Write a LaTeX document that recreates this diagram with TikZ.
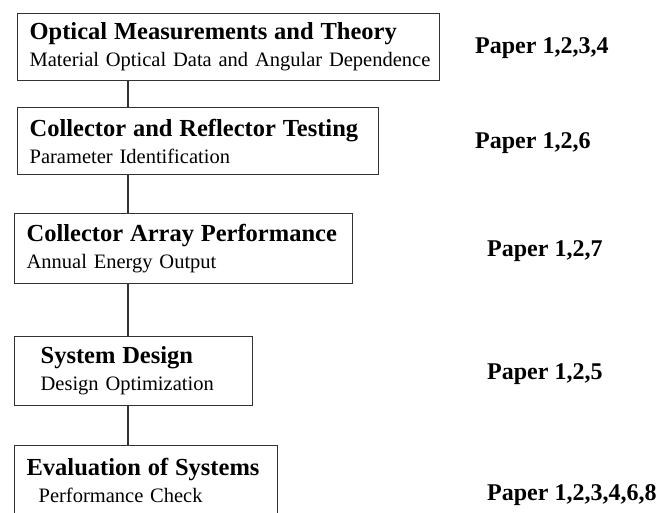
\documentclass[tikz,border=0pt]{standalone}
\usepackage{fontspec}
\setmainfont{Liberation Serif}
\usetikzlibrary{positioning}

\begin{document}
\begin{tikzpicture}[
    x=1pt, y=-1pt,
    stage/.style={rectangle, draw=black!80, line width=1.3pt, anchor=north west, align=left, inner xsep=12pt, inner ysep=0pt, font=\fontsize{20.5}{27}\selectfont},
    link/.style={draw=black!80, line width=1.3pt},
    ref/.style={anchor=base west, inner sep=0pt, font=\fontsize{24}{26}\selectfont\bfseries}
]
\clip (0,0) rectangle (659,512);
\coordinate (spine) at (128,0);

\node[stage, text width=398pt, minimum height=67pt] (s1) at (17,13) {{\bfseries\fontsize{24.5}{27}\selectfont Optical Measurements and Theory}\\\mbox{Material Optical Data and Angular Dependence}};
\node[stage, text width=337pt, minimum height=67pt] (s2) at (17,107) {{\bfseries\fontsize{24.5}{27}\selectfont Collector and Reflector Testing}\\Parameter Identification};
\node[stage, text width=314pt, minimum height=70pt] (s3) at (14,213) {{\bfseries\fontsize{24.5}{27}\selectfont Collector Array Performance}\\Annual Energy Output};
\node[stage, text width=214pt, minimum height=69pt] (s4) at (14,336) {\hspace*{14pt}{\bfseries\fontsize{24.5}{27}\selectfont System Design}\\\hspace*{14pt}Design Optimization};
\node[stage, text width=239pt, minimum height=70pt] (s5) at (14,445) {{\bfseries\fontsize{24.5}{27}\selectfont Evaluation of Systems}\\\hspace*{12pt}Performance Check};

\draw[link] (s1.south -| spine) -- (s2.north -| spine);
\draw[link] (s2.south -| spine) -- (s3.north -| spine);
\draw[link] (s3.south -| spine) -- (s4.north -| spine);
\draw[link] (s4.south -| spine) -- (s5.north -| spine);

\node[ref] (p1) at (475,53) {Paper 1,2,3,4};
\node[ref] (p2) at (475,148) {Paper 1,2,6};
\node[ref] (p3) at (487,256) {Paper 1,2,7};
\node[ref] (p4) at (487,379) {Paper 1,2,5};
\node[ref] (p5) at (487,500) {Paper 1,2,3,4,6,8};
\end{tikzpicture}
\end{document}
